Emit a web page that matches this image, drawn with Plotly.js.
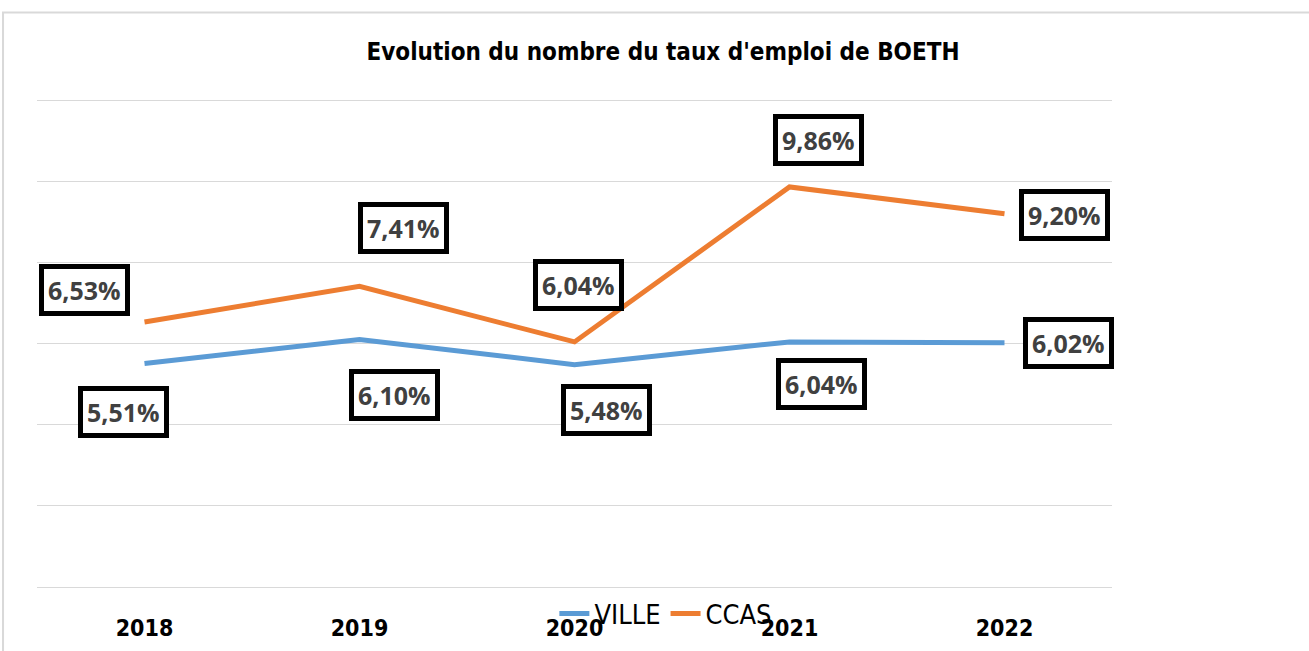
<!DOCTYPE html>
<html>
<head>
<meta charset="utf-8">
<script src="https://cdn.plot.ly/plotly-3.0.1.min.js"></script>
<style>html,body{margin:0;padding:0;background:#fff;}#chart{width:1309px;height:651px;}</style>
</head>
<body>
<div id="chart"></div>
<script>
const years = ['2018', '2019', '2020', '2021', '2022'];
const ville = [5.51, 6.10, 5.48, 6.04, 6.02];
const ccas = [6.53, 7.41, 6.04, 9.86, 9.20];
const villeLabels = ['5,51%', '6,10%', '5,48%', '6,04%', '6,02%'];
const ccasLabels = ['6,53%', '7,41%', '6,04%', '9,86%', '9,20%'];

// label offsets (pixels) relative to points
const ccasShift = [[-60, 32], [44, 58], [4, 57], [29, 47], [60, -1]];
const villeShift = [[-21, -49], [35, -56], [32, -45], [32, -42], [64, 0]];

function mkAnn(ys, labels, shifts) {
  return ys.map((v, i) => ({
    x: i, y: v, xref: 'x', yref: 'y',
    text: labels[i], showarrow: false,
    xshift: shifts[i][0], yshift: shifts[i][1],
    font: {family: 'Open Sans, sans-serif', size: 25, color: '#404040', weight: 700},
    bgcolor: '#ffffff', bordercolor: '#000000', borderwidth: 5, borderpad: 4
  }));
}

const traces = [
  {x: years, y: ville, name: 'VILLE', type: 'scatter', mode: 'lines',
   line: {color: '#5B9BD5', width: 5}},
  {x: years, y: ccas, name: 'CCAS', type: 'scatter', mode: 'lines',
   line: {color: '#ED7D31', width: 5}}
];

const layout = {
  width: 1309, height: 651,
  margin: {l: 37, r: 197, t: 96, b: 62},
  paper_bgcolor: '#ffffff', plot_bgcolor: '#ffffff',
  title: {text: "Evolution du nombre du taux d'emploi de BOETH",
          font: {family: 'DejaVu Sans Condensed, DejaVu Sans, sans-serif', size: 24, color: '#000', weight: 700},
          x: 0.5065, xanchor: 'center', y: 0.92, yanchor: 'middle'},
  xaxis: {type: 'category', range: [-0.5, 4.5], showgrid: false, zeroline: false,
          showline: false, ticks: 'outside', ticklen: 20, tickcolor: 'rgba(0,0,0,0)',
          tickfont: {family: 'DejaVu Sans Condensed, DejaVu Sans, sans-serif', size: 23, color: '#000', weight: 700}},
  yaxis: {range: [0, 12.1], dtick: 2, showticklabels: false, showgrid: true,
          gridcolor: '#d9d9d9', gridwidth: 1, zeroline: true, zerolinecolor: '#d9d9d9', zerolinewidth: 1,
          showline: false},
  showlegend: true,
  legend: {orientation: 'h', x: 0.585, xanchor: 'center', y: -0.055, yanchor: 'middle',
           font: {family: 'DejaVu Sans Condensed, DejaVu Sans, sans-serif', size: 27, color: '#000'},
           bgcolor: 'rgba(0,0,0,0)'},
  annotations: mkAnn(ccas, ccasLabels, ccasShift).concat(mkAnn(ville, villeLabels, villeShift)),
  shapes: [{type: 'rect', xref: 'paper', yref: 'paper', x0: -0.0316, x1: 1.3, y0: -0.3, y1: 1.17,
            line: {color: '#d9d9d9', width: 2}, fillcolor: 'rgba(0,0,0,0)', layer: 'below'}]
};

try {
  Plotly.newPlot('chart', traces, layout, {displayModeBar: false});
} catch (e) {
  document.body.insertAdjacentHTML('beforeend', '<pre>' + e + '</pre>');
}
</script>
</body>
</html>
